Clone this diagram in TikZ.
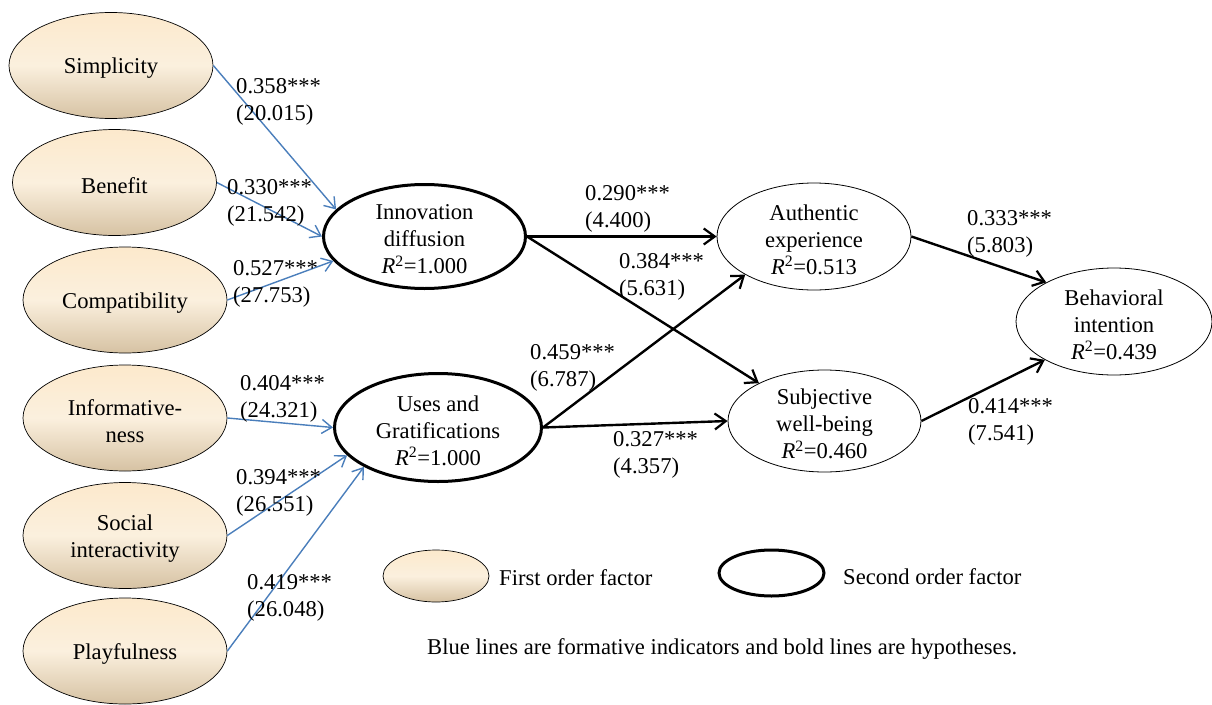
\documentclass[tikz,border=0pt]{standalone}
\usepackage{fontspec}
\setmainfont{Liberation Serif}
\usetikzlibrary{arrows.meta,shapes.geometric}
\definecolor{tanA}{RGB}{252,233,204}
\definecolor{tanB}{RGB}{251,240,222}
\definecolor{tanC}{RGB}{214,194,163}
\definecolor{lineblue}{RGB}{74,126,187}
\begin{document}
\begin{tikzpicture}[x=1pt,y=-1pt,
  font=\fontsize{22.6}{27}\selectfont,
  fof/.style={ellipse, draw=black, line width=0.7pt, top color=tanA, bottom color=tanC, middle color=tanB, inner sep=0pt, minimum width=204pt, minimum height=106pt},
  sof/.style={ellipse, draw=black, line width=3pt, fill=white, inner sep=0pt},
  outc/.style={ellipse, draw=black, line width=0.8pt, fill=white, inner sep=0pt},
  txt/.style={align=center, inner sep=0pt, yshift=-3pt},
  lbl/.style={align=left, inner sep=0pt, anchor=west},
  blueedge/.style={draw=lineblue, line width=1.4pt, -{Straight Barb[length=10pt,width=14pt,line width=1.4pt]}},
  hyp/.style={draw=black, line width=2.4pt, -{Straight Barb[length=11pt,width=16pt,line width=2.2pt]}}
]
\useasboundingbox (0,0) rectangle (1212,704);

% first-order factors
\node[fof] (simp) at (111,65.5) {};
\node[txt] at (simp.center) {Simplicity};
\node[fof] (ben) at (114.5,182.5) {};
\node[txt] at (ben.center) {Benefit};
\node[fof] (comp) at (125,300) {};
\node[txt] at (comp.center) {Compatibility};
\node[fof] (info) at (125,418) {};
\node[txt] at (info.center) {Informative-\\ness};
\node[fof] (soc) at (125,535.5) {};
\node[txt] at (soc.center) {Social\\interactivity};
\node[fof] (play) at (125,651) {};
\node[txt] at (play.center) {Playfulness};

% second-order factors
\node[sof, minimum width=202pt, minimum height=104pt] (inno) at (424.5,236.5) {};
\node[txt] at (inno.center) {Innovation\\diffusion\\\textit{R}\textsuperscript{2}=1.000};
\node[sof, minimum width=207pt, minimum height=108pt] (ug) at (438,427.5) {};
\node[txt] at (ug.center) {Uses and\\Gratifications\\\textit{R}\textsuperscript{2}=1.000};

% outcomes
\node[outc, minimum width=194pt, minimum height=107pt] (auth) at (814,236.5) {};
\node[txt] at (auth.center) {Authentic\\experience\\\textit{R}\textsuperscript{2}=0.513};
\node[outc, minimum width=193pt, minimum height=102pt] (subj) at (824.5,421) {};
\node[txt] at (subj.center) {Subjective\\well-being\\\textit{R}\textsuperscript{2}=0.460};
\node[outc, minimum width=196pt, minimum height=107pt] (beh) at (1114,321.5) {};
\node[txt] at (beh.center) {Behavioral\\intention\\\textit{R}\textsuperscript{2}=0.439};

% formative indicator lines
\draw[blueedge] (simp.east) -- (inno.163);
\draw[blueedge] (ben.east) -- (inno.180);
\draw[blueedge] (comp.east) -- (inno.195);
\draw[blueedge] (info.east) -- (ug.west);
\draw[blueedge] (soc.east) -- (ug.197);
\draw[blueedge] (play.east) -- (ug.208);

% hypotheses
\draw[hyp] (inno.east) -- (auth.west);
\draw[hyp] (inno.east) -- (subj.150);
\draw[hyp] (ug.east) -- (auth.209);
\draw[hyp] (ug.east) -- (subj.west);
\draw[hyp] (auth.east) -- (beh.150);
\draw[hyp] (subj.east) -- (beh.209);

% path labels
\node[lbl] (l1) at (236,102) {0.358***\\(20.015)};
\node[lbl] (l2) at (227,203) {0.330***\\(21.542)};
\node[lbl] (l3) at (233,284) {0.527***\\(27.753)};
\node[lbl] (l4) at (240,399) {0.404***\\(24.321)};
\node[lbl] (l5) at (236,493) {0.394***\\(26.551)};
\node[lbl] (l6) at (247,598) {0.419***\\(26.048)};
\node[lbl] (l7) at (585,209) {0.290***\\(4.400)};
\node[lbl] (l8) at (619,277) {0.384***\\(5.631)};
\node[lbl] (l9) at (530,368) {0.459***\\(6.787)};
\node[lbl] (l10) at (613,455) {0.327***\\(4.357)};
\node[lbl] (l11) at (967,234) {0.333***\\(5.803)};
\node[lbl] (l12) at (968,422) {0.414***\\(7.541)};

% legend
\node[fof, minimum width=106pt, minimum height=52pt] (leg1) at (436,576) {};
\node[anchor=west, inner sep=0pt] (leg1t) at (499,578) {First order factor};
\node[sof, minimum width=105pt, minimum height=46pt] (leg2) at (771.5,573) {};
\node[anchor=west, inner sep=0pt] (leg2t) at (843,577) {Second order factor};
\node[anchor=west, inner sep=0pt] (note) at (427,649) {Blue lines are formative indicators and bold lines are hypotheses.};
\end{tikzpicture}
\end{document}
